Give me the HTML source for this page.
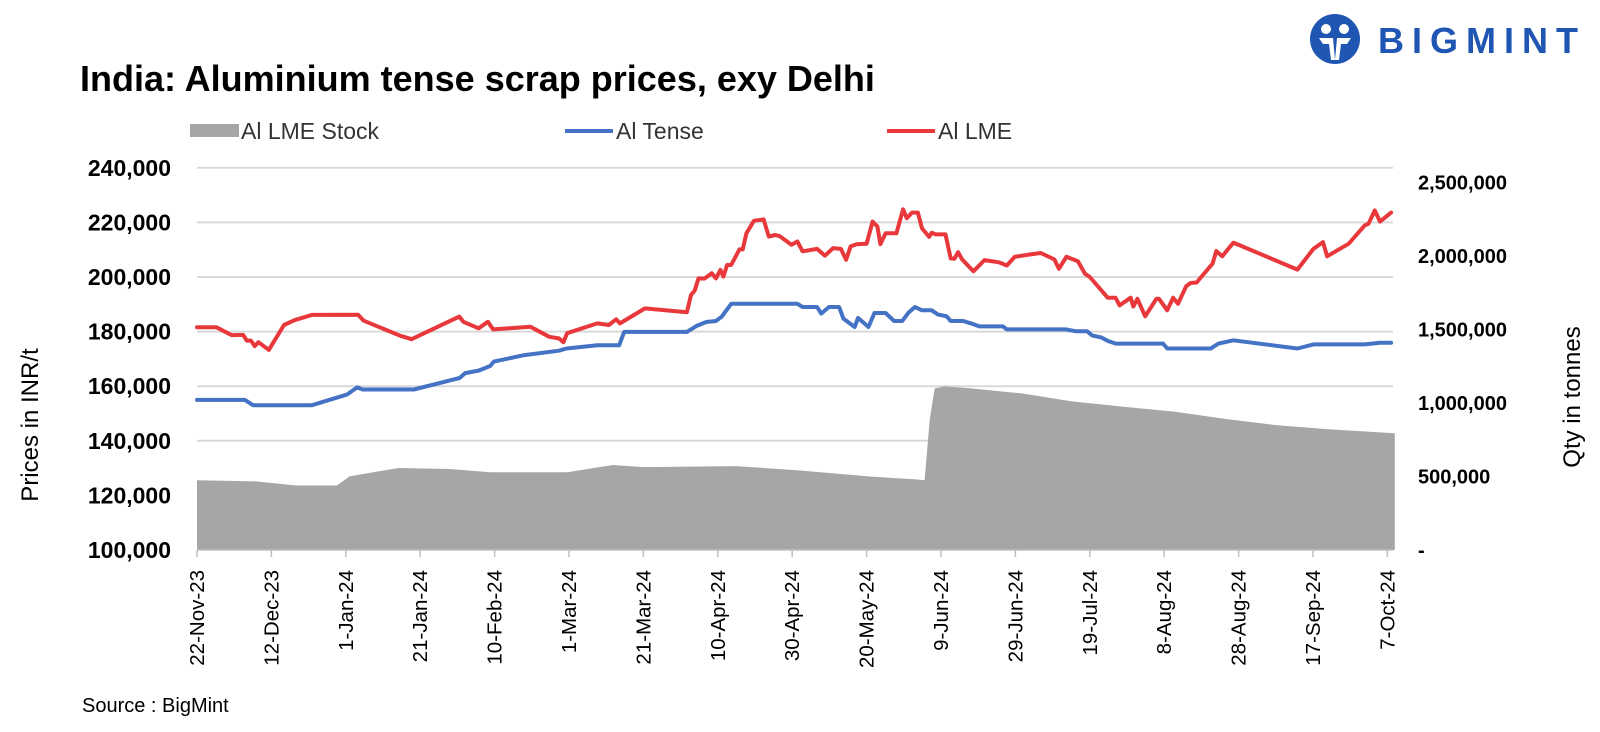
<!DOCTYPE html>
<html><head><meta charset="utf-8">
<style>
html,body{margin:0;padding:0;background:#fff;}
svg{display:block;font-family:"Liberation Sans",sans-serif;}
</style></head>
<body>
<svg id="chart" width="1600" height="732" viewBox="0 0 1600 732">
  <g>
    <circle cx="1335" cy="39" r="25" fill="#1f56b3"/>
    <circle cx="1326" cy="29" r="5" fill="#fff"/>
    <circle cx="1344" cy="29" r="5" fill="#fff"/>
    <path d="M1319 38 h14 l2 22 h-4 l-2-16 h-6 z M1351 38 h-14 l-2 22 h4 l2-16 h6 z" fill="#fff"/>
    <text x="1378" y="53" font-size="36" font-weight="bold" fill="#1f56b3" textLength="200" lengthAdjust="spacing">BIGMINT</text>
  </g>
  <text x="80" y="91" font-size="36" font-weight="bold" fill="#000">India: Aluminium tense scrap prices, exy Delhi</text>
  <g>
    <g>
      <rect x="190" y="124" width="49" height="13" fill="#a6a6a6"/>
      <text x="241" y="139" font-size="23" fill="#333">Al LME Stock</text>
    </g>
    <g>
      <line x1="565" y1="131" x2="613" y2="131" stroke="#4472c4" stroke-width="4"/>
      <text x="616" y="139" font-size="23" fill="#333">Al Tense</text>
    </g>
    <g>
      <line x1="887" y1="131" x2="935" y2="131" stroke="#e8383b" stroke-width="4"/>
      <text x="938" y="139" font-size="23" fill="#333">Al LME</text>
    </g>
  </g>
  <g id="grid"></g>
  <g id="area"></g>
  <g id="lines"></g>
  <g id="axes"></g>
  <text transform="translate(38,425) rotate(-90)" text-anchor="middle" font-size="24" fill="#000">Prices in INR/t</text>
  <text transform="translate(1580,397) rotate(-90)" text-anchor="middle" font-size="24" fill="#000">Qty in tonnes</text>
  <text x="82" y="712" font-size="20" fill="#000">Source : BigMint</text>
</svg>
<script>
const xTickLabels = ["22-Nov-23","12-Dec-23","1-Jan-24","21-Jan-24","10-Feb-24","1-Mar-24","21-Mar-24","10-Apr-24","30-Apr-24","20-May-24","9-Jun-24","29-Jun-24","19-Jul-24","8-Aug-24","28-Aug-24","17-Sep-24","7-Oct-24"];
const leftTicks = [100000,120000,140000,160000,180000,200000,220000,240000];
const leftTickLabels = ["100,000","120,000","140,000","160,000","180,000","200,000","220,000","240,000"];
const rightTicks = [0,500000,1000000,1500000,2000000,2500000];
const rightTickLabels = ["-","500,000","1,000,000","1,500,000","2,000,000","2,500,000"];

const lmeDays = [0,5.2,9.3,12.4,13.4,14.5,15.5,16.5,19.3,23.4,26.3,30.9,43.3,44.8,54.6,57.7,70.5,71.6,75.7,78.2,79.6,89.6,94.7,97.3,98.5,99.5,107.6,110.7,112.7,113.7,120.4,131.7,132.8,133.8,134.8,136.4,138.4,139.5,140.7,141.5,142.5,143.6,145.8,146.7,147.7,149.7,152.3,153.7,155.4,156.6,158.2,159.8,161.4,162.8,166.7,168.8,171,173.1,174.5,175.7,177.3,180,181.6,182.9,183.7,185.1,188,189.8,190.8,192.2,193.8,194.9,196.8,197.5,198.6,201.2,202.6,203.6,204.6,205.7,208.7,211.7,215.6,217.7,219.8,223.6,226.8,230.5,231.7,233.7,236.8,238.7,240,244.8,246.9,248,251,251.7,252.8,254.9,257.9,258.6,260.8,262.4,263.7,265.9,267.1,268.7,273,274,275.6,278.6,295.8,300.1,302.7,303.8,309.6,313.9,314.9,316.6,318,321];
const lmeValues = [181600,181600,178700,178800,176700,176700,174700,176100,173300,182400,184200,186100,186200,184000,178500,177200,185500,183600,181200,183600,180800,181800,178100,177500,176100,179400,183000,182400,184500,183000,188500,187100,193400,195000,199500,199400,201400,199500,202600,200200,204400,204400,210100,210100,216000,220600,221100,214800,215400,215000,213400,211800,213000,209400,210300,207800,210600,210300,206300,211200,212000,212200,220300,218500,212000,216000,216000,224800,221500,223600,223600,217800,214700,216200,215600,215600,206800,206700,209100,206400,202100,206200,205400,204200,207400,208200,208800,206400,203000,207400,205800,201200,200000,192400,192400,189600,192400,189200,192000,185600,192000,192000,187800,192400,190200,196600,197800,198000,204900,209500,207600,212600,202700,210300,212800,207600,212200,218900,219500,224400,220300,223600];

const tenseDays = [0,12.9,15.1,30.8,40.4,43.1,44.5,58.3,70.6,72.1,75.7,78.8,79.8,88,97.3,99.3,107.6,113.5,114.8,131.7,134.3,136.9,139.5,141,143.6,161.4,162.8,166.7,167.8,169.9,172.6,173.8,176.8,177.7,180.5,182.1,185.1,187.4,189.6,191.2,193,194.9,197.5,199.1,201.5,202.6,206,208.7,210.3,216.7,217.7,233.7,236.3,239.3,240.6,243.2,244.8,247,259.7,260.8,272.5,274.6,278.6,295.8,300.1,313.9,318,321];
const tenseValues = [155000,155000,153000,153000,157000,159600,158800,158800,163000,164800,165700,167400,169000,171400,173000,173800,175000,175000,179900,179900,182100,183500,183900,185400,190200,190200,189000,189000,186600,189000,189000,184700,181700,185000,181700,186800,186800,183900,183900,186900,189000,187800,187800,186300,185600,183900,183900,182700,181900,181900,180800,180800,180100,180100,178600,177800,176600,175600,175600,173800,173800,175600,176800,173800,175300,175300,175900,175900];

const stockDays = [0,15.7,26.7,37.6,41,54.1,67.9,78.9,99.5,111.8,120,144.8,161.3,180.5,192.9,195.6,197,198.3,201.1,208,221.7,235.4,249.2,262.9,276.6,290.4,304.1,322];
const stockValues = [474000,467000,439000,439000,501000,558000,551000,529000,529000,578000,564000,571000,543000,501000,481000,474000,891000,1099000,1113000,1099000,1065000,1010000,974000,940000,891000,849000,822000,794000];

const NS = "http://www.w3.org/2000/svg";
const X0 = 197, PXDAY = 3.72, PLOT_R = 1393;
const xs = d => X0 + d * PXDAY;
const yL = v => 550 - (v - 100000) / 20000 * 54.6;
const yR = v => 550 - v / 500000 * 73.5;
function mk(tag, attrs, parent){const e=document.createElementNS(NS,tag);for(const k in attrs)e.setAttribute(k,attrs[k]);parent.appendChild(e);return e;}

const grid = document.getElementById('grid');
leftTicks.forEach((v,i)=>{
  if(i>0){
    const l = mk('line',{x1:X0,x2:PLOT_R,y1:yL(v),y2:yL(v),stroke:'#d9d9d9','stroke-width':2},grid);
    
    
  }
});
const axes = document.getElementById('axes');
leftTicks.forEach((v,i)=>{
  const t = mk('text',{x:171,y:yL(v)+8,'text-anchor':'end','font-size':23,'font-weight':'bold',fill:'#000'},axes);
  t.textContent = leftTickLabels[i];
  
  
});
rightTicks.forEach((v,i)=>{
  const t = mk('text',{x:1418,y:yR(v)+7,'font-size':20,'font-weight':'bold',fill:'#000'},axes);
  t.textContent = rightTickLabels[i];
  
  
});

const area = document.getElementById('area');
let d = 'M'+xs(stockDays[0])+' 550';
stockDays.forEach((dd,i)=>{ d += ' L'+xs(dd).toFixed(1)+' '+yR(stockValues[i]).toFixed(1); });
d += ' L'+xs(stockDays[stockDays.length-1]).toFixed(1)+' 550 Z';
const ap = mk('path',{d:d,fill:'#a6a6a6'},area);



const ax = mk('line',{x1:X0,x2:PLOT_R,y1:550,y2:550,stroke:'#bfbfbf','stroke-width':1.5},axes);


xTickLabels.forEach((lab,i)=>{
  const x = xs(i*20);
  const tk = mk('line',{x1:x,x2:x,y1:550,y2:557,stroke:'#bfbfbf','stroke-width':1.5},axes);
  
  
  const t = mk('text',{transform:`translate(${x+7},570) rotate(-90)`,'text-anchor':'end','font-size':20.5,fill:'#000'},axes);
  t.textContent = lab;
  
  
});

const lines = document.getElementById('lines');
function line(days, vals, color, name){
  const pts = days.map((dd,i)=>xs(dd).toFixed(1)+','+yL(vals[i]).toFixed(1)).join(' ');
  const p = mk('polyline',{points:pts,fill:'none',stroke:color,'stroke-width':4,'stroke-linejoin':'round','stroke-linecap':'round'},lines);
  
  
}
line(tenseDays, tenseValues, '#4472c4', 'al-tense-line');
line(lmeDays, lmeValues, '#e8383b', 'al-lme-line');
</script>
</body></html>
